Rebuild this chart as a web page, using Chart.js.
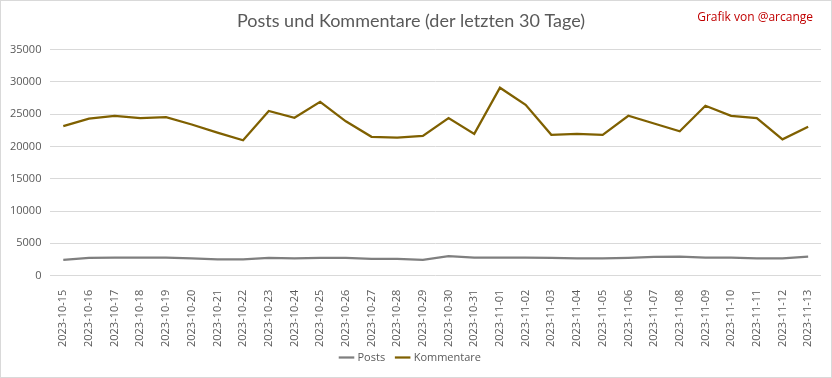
<!DOCTYPE html>
<html>
<head>
<meta charset="utf-8">
<script src="https://cdn.jsdelivr.net/npm/chart.js@4"></script>
<style>
  html, body { margin: 0; padding: 0; background: #fff; }
  #wrap { width: 830px; height: 376px; border: 1px solid #d9d9d9; position: relative; }
</style>
</head>
<body>
<div id="wrap"><canvas id="mycanvas" width="830" height="376"></canvas></div>
<script>
var tage = ['2023-10-15','2023-10-16','2023-10-17','2023-10-18','2023-10-19','2023-10-20','2023-10-21','2023-10-22','2023-10-23','2023-10-24','2023-10-25','2023-10-26','2023-10-27','2023-10-28','2023-10-29','2023-10-30','2023-10-31','2023-11-01','2023-11-02','2023-11-03','2023-11-04','2023-11-05','2023-11-06','2023-11-07','2023-11-08','2023-11-09','2023-11-10','2023-11-11','2023-11-12','2023-11-13'];
var posts = [2450,2750,2800,2800,2800,2650,2500,2500,2750,2650,2750,2750,2600,2600,2450,3000,2800,2800,2800,2750,2650,2650,2750,2900,2950,2800,2800,2650,2650,2950];
var kommentare = [23150,24300,24750,24400,24550,23400,22150,20950,25500,24450,26900,23900,21500,21350,21650,24400,21950,29100,26450,21800,21950,21800,24750,23550,22350,26300,24750,24400,21100,23050];
var yTicks = [0,5000,10000,15000,20000,25000,30000,35000];

var SHIFT = 13;

var signatur = {
  id: 'signatur',
  beforeLayout: function(chart) {
    // legend flacher machen, damit die Achse weiter unten sitzt
    var lg = chart.legend;
    if (lg && !lg._flach) {
      var fit = lg.fit;
      lg.fit = function() { fit.call(this); this.height -= SHIFT; };
      lg._flach = true;
    }
  },
  afterLayout: function(chart) {
    var lg = chart.legend;
    if (lg) { lg.top -= SHIFT; lg.height += SHIFT; }
  },
  afterDraw: function(chart) {
    var c = chart.ctx;
    c.save();
    c.font = '12px "Open Sans"';
    c.fillStyle = '#c00000';
    c.textAlign = 'right';
    c.textBaseline = 'middle';
    c.fillText('Grafik von @arcange', 812, 17);
    c.restore();
  }
};

var ctx = document.getElementById('mycanvas');
var chart = new Chart(ctx, {
  type: 'line',
  data: {
    labels: tage,
    datasets: [
      { label: 'Posts', data: posts, borderColor: '#7f7f7f', backgroundColor: '#7f7f7f', borderWidth: 2.25, pointRadius: 0, tension: 0 },
      { label: 'Kommentare', data: kommentare, borderColor: '#7f6000', backgroundColor: '#7f6000', borderWidth: 2.25, pointRadius: 0, tension: 0 }
    ]
  },
  options: {
    responsive: false,
    animation: false,
    layout: { padding: { left: 0, right: 10, top: 0, bottom: 4 } },
    plugins: {
      title: {
        display: true,
        text: 'Posts und Kommentare (der letzten 30 Tage)',
        color: '#595959',
        font: { family: 'Lato', size: 18, weight: 'normal' },
        padding: { top: 9, bottom: 18 }
      },
      legend: {
        position: 'bottom',
        labels: {
          color: '#595959',
          font: { family: 'Open Sans', size: 11 },
          usePointStyle: true,
          pointStyle: 'line',
          boxWidth: 28,
          padding: 12
        }
      },
      tooltip: { enabled: false }
    },
    scales: {
      x: {
        offset: true,
        grid: { display: false },
        border: { display: false },
        ticks: { color: '#595959', font: { family: 'Open Sans', size: 11 }, maxRotation: 90, minRotation: 90, autoSkip: false, padding: 6 }
      },
      y: {
        min: 0,
        max: 35000,
        afterBuildTicks: function(axis) { axis.ticks = yTicks.map(function(v) { return { value: v }; }); },
        grid: { color: '#d9d9d9', drawTicks: false },
        border: { display: false },
        ticks: { color: '#595959', font: { family: 'Open Sans', size: 11 }, padding: 9, callback: function(v) { return String(v); } }
      }
    }
  },
  plugins: [signatur]
});
</script>
</body>
</html>
